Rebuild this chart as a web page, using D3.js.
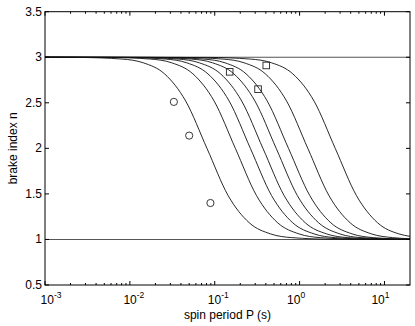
<!DOCTYPE html>
<html lang="en">
	<head>
		<meta charset="utf-8">
		<title>brake index vs spin period</title>
		<script type="text/javascript" src="https://cdn.jsdelivr.net/npm/d3@7"></script>
		<style type="text/css">
			body { margin: 0; background: #fff; }
			text { font-family: "Liberation Sans", Arial, sans-serif; fill: #000; }
		</style>
	</head>
	<body>
		<script type="text/javascript">
			//Width and height
			var w = 415;
			var h = 326;

			//Model curves as [P (s), n]
			var curve1 = [[0.001,3],[0.00256,2.998],[0.0081,2.980],[0.0144,2.939],[0.0256,2.818],[0.0455,2.519],[0.081,2.0],[0.144,1.481],[0.256,1.182],[0.455,1.061],[0.81,1.020],[2.56,1.002],[20,1.0]];
			var curve2 = [[0.001,3],[0.00553,2.998],[0.0175,2.980],[0.0311,2.939],[0.0553,2.818],[0.0984,2.519],[0.175,2.0],[0.311,1.481],[0.553,1.182],[0.984,1.061],[1.75,1.020],[5.53,1.002],[20,1.0]];
			var curve3 = [[0.001,3],[0.00831,2.998],[0.0263,2.980],[0.0468,2.939],[0.0831,2.818],[0.148,2.519],[0.263,2.0],[0.468,1.481],[0.832,1.182],[1.48,1.061],[2.63,1.020],[8.32,1.002],[20,1.0]];
			var curve4 = [[0.001,3],[0.0117,2.998],[0.037,2.980],[0.0658,2.939],[0.117,2.818],[0.208,2.519],[0.37,2.0],[0.658,1.481],[1.17,1.182],[2.08,1.061],[3.7,1.020],[11.7,1.002],[20,1.001]];
			var curve5 = [[0.001,3],[0.0168,2.998],[0.053,2.980],[0.0943,2.939],[0.168,2.818],[0.298,2.519],[0.53,2.0],[0.942,1.481],[1.68,1.182],[2.98,1.061],[5.3,1.020],[16.8,1.002],[20,1.001]];
			var curve6 = [[0.001,3],[0.0234,2.998],[0.074,2.980],[0.132,2.939],[0.234,2.818],[0.416,2.519],[0.74,2.0],[1.32,1.481],[2.34,1.182],[4.16,1.061],[7.4,1.020],[20,1.003]];
			var curve7 = [[0.001,3],[0.0395,2.998],[0.125,2.980],[0.222,2.939],[0.395,2.818],[0.703,2.519],[1.25,2.0],[2.22,1.481],[3.95,1.182],[7.03,1.061],[12.5,1.020],[20,1.008]];
			var curve8 = [[0.001,3],[0.0831,2.998],[0.263,2.980],[0.468,2.939],[0.832,2.818],[1.48,2.519],[2.63,2.0],[4.68,1.481],[8.32,1.182],[14.8,1.061],[20,1.034]];
			var curves = [curve1, curve2, curve3, curve4, curve5, curve6, curve7, curve8];

			//Limits n = 3 and n = 1
			var limits = [3, 1];

			//Measured pulsars
			var circleP = [0.033, 0.050, 0.089];
			var circleN = [2.51, 2.14, 1.40];
			var squareP = [0.150, 0.324, 0.405];
			var squareN = [2.84, 2.65, 2.91];

			//Ticks
			var yTicks = [0.5, 1, 1.5, 2, 2.5, 3, 3.5];
			var xDecades = [-3, -2, -1, 0, 1];

			var padL = 45, padR = 410, padT = 11.7, padB = 285;

			var x = d3.scaleLog()
						.domain([1e-3, 20])
						.range([padL, padR]);
			var y = d3.scaleLinear()
						.domain([0.5, 3.5])
						.range([padB, padT]);

			var svg = d3.select("body")
						.append("svg")
						.attr("width", w)
						.attr("height", h);

			//limit lines
			svg.selectAll("line.limit")
				.data(limits)
				.enter()
				.append("line")
				.attr("class", "limit")
				.attr("x1", padL)
				.attr("x2", padR)
				.attr("y1", function(d) { return y(d); })
				.attr("y2", function(d) { return y(d); })
				.style("stroke", "#555")
				.style("stroke-width", 1.1);

			var line = d3.line()
						.x(function(d) { return x(d[0]); })
						.y(function(d) { return y(d[1]); })
						.curve(d3.curveMonotoneX);

			svg.selectAll("path.curve")
				.data(curves)
				.enter()
				.append("path")
				.attr("class", "curve")
				.attr("d", line)
				.style("fill", "none")
				.style("stroke", "#111")
				.style("stroke-width", 0.9);

			//circles
			svg.selectAll("circle")
				.data(circleP)
				.enter()
				.append("circle")
				.attr("cx", function(d) { return x(d); })
				.attr("cy", function(d, i) { return y(circleN[i]); })
				.attr("r", 3.6)
				.style("fill", "none")
				.style("stroke", "#222")
				.style("stroke-width", 0.9);

			//squares
			svg.selectAll("rect.sq")
				.data(squareP)
				.enter()
				.append("rect")
				.attr("class", "sq")
				.attr("x", function(d) { return x(d) - 3.3; })
				.attr("y", function(d, i) { return y(squareN[i]) - 3.3; })
				.attr("width", 6.6)
				.attr("height", 6.6)
				.style("fill", "none")
				.style("stroke", "#222")
				.style("stroke-width", 0.9);

			//frame
			svg.append("rect")
				.attr("x", padL)
				.attr("y", padT)
				.attr("width", padR - padL)
				.attr("height", padB - padT)
				.style("fill", "none")
				.style("stroke", "#000")
				.style("stroke-width", 1);

			//y ticks, inward on both sides
			yTicks.forEach(function(t) {
				var yy = y(t);
				svg.append("line").attr("x1", padL).attr("x2", padL + 4).attr("y1", yy).attr("y2", yy)
					.style("stroke", "#000").style("stroke-width", 1);
				svg.append("line").attr("x1", padR).attr("x2", padR - 4).attr("y1", yy).attr("y2", yy)
					.style("stroke", "#000").style("stroke-width", 1);
				svg.append("text")
					.attr("x", padL - 3)
					.attr("y", yy + 4)
					.attr("text-anchor", "end")
					.style("font-size", "12px")
					.text(t);
			});

			//x ticks: decades plus minor ones
			var labelShift = [6, 4, 3.5, -3.5, -4];
			xDecades.forEach(function(e, i) {
				var base = Math.pow(10, e);
				for (var m = 1; m < 10; m++) {
					var v = base * m;
					if (v >= 20) break;
					var len = m == 1 ? 4 : 2;
					svg.append("line").attr("x1", x(v)).attr("x2", x(v)).attr("y1", padB).attr("y2", padB - len)
						.style("stroke", "#000").style("stroke-width", 1);
					svg.append("line").attr("x1", x(v)).attr("x2", x(v)).attr("y1", padT).attr("y2", padT + len)
						.style("stroke", "#000").style("stroke-width", 1);
				}
				var lbl = svg.append("text")
					.attr("x", x(base) + labelShift[i])
					.attr("y", 304)
					.attr("text-anchor", "middle")
					.style("font-size", "12px");
				lbl.append("tspan").text("10");
				lbl.append("tspan").attr("dy", -6).style("font-size", "8.5px").text(e);
			});

			//axis titles
			svg.append("text")
				.attr("x", (padL + padR) / 2)
				.attr("y", 319)
				.attr("text-anchor", "middle")
				.style("font-size", "12px")
				.text("spin period P (s)");

			svg.append("text")
				.attr("transform", "translate(17," + ((padT + padB) / 2) + ") rotate(-90)")
				.attr("text-anchor", "middle")
				.style("font-size", "12px")
				.text("brake index n");
		</script>
	</body>
</html>
